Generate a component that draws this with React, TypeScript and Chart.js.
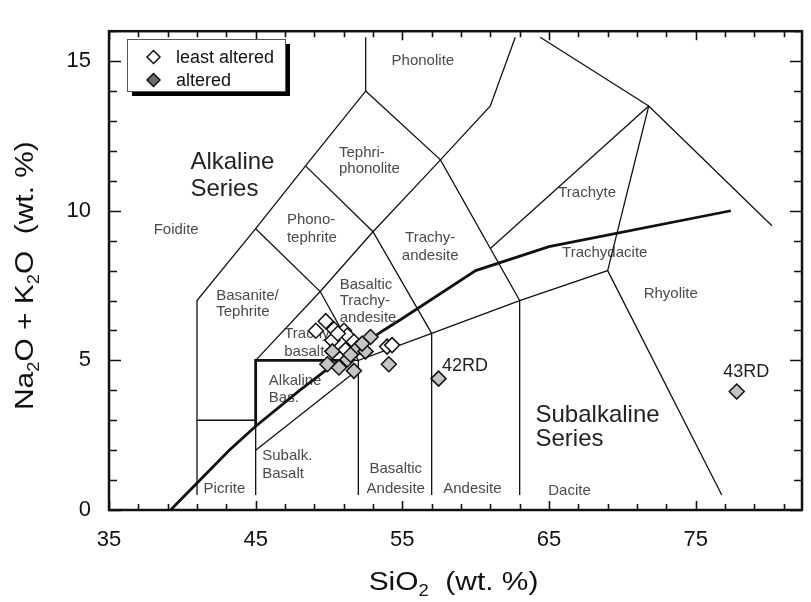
import React, { useEffect, useRef } from 'react';
import { Chart, registerables } from 'chart.js';

Chart.register(...registerables);

// ---- axis ticks ----
const xTickValues = [35, 45, 55, 65, 75];
const yTickValues = [0, 5, 10, 15];

// ---- samples ----
const leastAlteredSiO2 = [49.78, 49.1, 50.34, 51.02, 51.25, 50.23, 51.13, 52.04, 53.96, 54.3, 51.7, 50.6];
const leastAlteredAlk = [6.31, 5.99, 6.04, 5.99, 5.83, 5.67, 5.35, 5.46, 5.46, 5.51, 5.62, 5.9];
const alteredSiO2 = [52.83, 54.08, 49.89, 50.68, 51.7, 50.23, 51.25, 51.92, 52.49, 51.47, 52.26, 57.47, 77.8];
const alteredAlk = [5.78, 4.87, 4.87, 4.76, 4.65, 5.3, 5.03, 5.4, 5.3, 5.19, 5.56, 4.39, 3.96];
const sampleNames = ['42RD', '43RD'];
const sampleNameSiO2 = [57.7, 78.45];
const sampleNameAlk = [4.82, 4.6];

// ---- TAS field boundaries (SiO2, Na2O+K2O) ----
const foiditeBoundary = [[41, 0.5], [41, 7], [45, 9.4], [48.4, 11.5], [52.5, 14], [52.5, 15.8]];
const picriteTop = [[41, 3], [45, 3]];
const basaltLeft = [[45, 0.5], [45, 5]];
const basaltTop = [[45, 5], [52, 5]];
const trachyBasaltLine = [[45, 5], [49.4, 7.3], [53, 9.3], [57.6, 11.7], [61, 13.5], [62.7, 15.8]];
const phonotephriteLine = [[45, 9.4], [49.4, 7.3], [52, 5]];
const tephriphonoliteLine = [[48.4, 11.5], [53, 9.3], [57, 5.9]];
const phonoliteLine = [[52.5, 14], [57.6, 11.7], [63, 7]];
const basAndesiteLine = [[52, 0.5], [52, 5], [57, 5.9], [63, 7], [69, 8], [76.78, 0.5]];
const andesiteLeft = [[57, 0.5], [57, 5.9]];
const daciteLeft = [[63, 0.5], [63, 7]];
const rhyoliteLeft = [[69, 8], [71.8, 13.5], [80.2, 9.5]];
const trachyteTop = [[64.4, 15.8], [71.8, 13.5]];
const trachydaciteLine = [[61, 8.74], [71.8, 13.5]];
const subalkBasaltLine = [[45, 2], [52, 4.7]];
const alkalineBasaltBox = [[45, 2.8], [45, 5], [50.7, 5]];
const irvineBaragar = [[39.2, 0], [40, 0.4], [43.2, 2], [45, 2.8], [48, 4], [50, 4.75], [53.7, 6], [55, 6.4], [60, 8], [65, 8.8], [77.4, 10]];

const thinLines = [foiditeBoundary, picriteTop, basaltLeft, basaltTop, trachyBasaltLine, phonotephriteLine,
  tephriphonoliteLine, phonoliteLine, basAndesiteLine, andesiteLeft, daciteLeft, rhyoliteLeft, trachyteTop,
  trachydaciteLine, subalkBasaltLine];
const thickLines = [alkalineBasaltBox, irvineBaragar];

// ---- field names: [text, SiO2, alkali, align] ----
const fieldNames: [string, number, number, string][] = [
  ['Foidite', 39.58, 9.36, 'center'],
  ['Tephri-', 50.68, 11.93, 'left'],
  ['phonolite', 50.68, 11.4, 'left'],
  ['Phono-', 47.13, 9.69, 'left'],
  ['tephrite', 47.13, 9.09, 'left'],
  ['Basanite/', 42.31, 7.17, 'left'],
  ['Tephrite', 42.31, 6.61, 'left'],
  ['Basaltic', 50.73, 7.54, 'left'],
  ['Trachy-', 50.73, 7.0, 'left'],
  ['andesite', 50.73, 6.42, 'left'],
  ['Trachy-', 46.95, 5.88, 'left'],
  ['basalt', 46.95, 5.3, 'left'],
  ['Alkaline', 45.9, 4.33, 'left'],
  ['Bas.', 45.9, 3.75, 'left'],
  ['Subalk.', 45.45, 1.8, 'left'],
  ['Basalt', 45.45, 1.2, 'left'],
  ['Picrite', 41.45, 0.71, 'left'],
  ['Basaltic', 54.55, 1.38, 'center'],
  ['Andesite', 54.55, 0.71, 'center'],
  ['Andesite', 59.78, 0.71, 'center'],
  ['Dacite', 66.4, 0.65, 'center'],
  ['Phonolite', 56.4, 15.0, 'center'],
  ['Trachyte', 67.6, 10.6, 'center'],
  ['Trachy-', 56.9, 9.1, 'center'],
  ['andesite', 56.9, 8.5, 'center'],
  ['Trachydacite', 68.8, 8.6, 'center'],
  ['Rhyolite', 73.3, 7.22, 'center'],
];
const seriesNames: [string, number, number][] = [
  ['Alkaline', 40.55, 11.61],
  ['Series', 40.55, 10.7],
  ['Subalkaline', 64.08, 3.16],
  ['Series', 64.08, 2.35],
];
const legendLabels = ['least altered', 'altered'];

const FONT = '"Liberation Sans", Arial, Helvetica, sans-serif';
const WHITE_FILL = '#ffffff';
const GRAY_FILL = '#c4c4c4';
const LEGEND_GRAY = '#6c6c6c';

function diamond(ctx: CanvasRenderingContext2D, x: number, y: number, r: number, fill: string) {
  ctx.beginPath();
  ctx.moveTo(x, y - r);
  ctx.lineTo(x + r, y);
  ctx.lineTo(x, y + r);
  ctx.lineTo(x - r, y);
  ctx.closePath();
  ctx.fillStyle = fill;
  ctx.fill();
  ctx.lineWidth = 1.5;
  ctx.strokeStyle = '#111';
  ctx.stroke();
}

const decorPlugin = {
  id: 'decor',
  beforeDatasetsDraw(chart: any) {
    const { ctx, scales } = chart;
    const xs = scales.x;
    const ys = scales.y;
    ctx.save();
    ctx.textBaseline = 'middle';
    ctx.fillStyle = '#4a4a4a';
    ctx.font = `15px ${FONT}`;
    for (const [t, sx, sy, al] of fieldNames) {
      ctx.textAlign = al as CanvasTextAlign;
      ctx.fillText(t, xs.getPixelForValue(sx), ys.getPixelForValue(sy));
    }
    ctx.fillStyle = '#222';
    ctx.font = `24px ${FONT}`;
    ctx.textAlign = 'left';
    for (const [t, sx, sy] of seriesNames) {
      ctx.fillText(t, xs.getPixelForValue(sx), ys.getPixelForValue(sy));
    }
    ctx.restore();
  },
  afterDatasetsDraw(chart: any) {
    const { ctx, chartArea, scales } = chart;
    const { left, right, top, bottom } = chartArea;
    const xs = scales.x;
    const ys = scales.y;
    ctx.save();
    // sample names
    ctx.fillStyle = '#222';
    ctx.font = `18px ${FONT}`;
    ctx.textBaseline = 'middle';
    ctx.textAlign = 'left';
    ctx.fillText(sampleNames[0], xs.getPixelForValue(sampleNameSiO2[0]), ys.getPixelForValue(sampleNameAlk[0]));
    ctx.textAlign = 'center';
    ctx.fillText(sampleNames[1], xs.getPixelForValue(sampleNameSiO2[1]), ys.getPixelForValue(sampleNameAlk[1]));

    // frame + ticks
    ctx.strokeStyle = '#111';
    ctx.lineWidth = 1.6;
    ctx.beginPath();
    for (let v = 35; v <= xs.max; v += 2) {
      const px = Math.round(xs.getPixelForValue(v)) + 0.5;
      const L = (v - 35) % 10 === 0 ? 9 : 6;
      ctx.moveTo(px, bottom); ctx.lineTo(px, bottom - L);
      ctx.moveTo(px, top); ctx.lineTo(px, top + L);
    }
    for (let v = 0; v <= ys.max; v += 1) {
      const py = Math.round(ys.getPixelForValue(v)) + 0.5;
      const L = v % 5 === 0 ? 12 : 8;
      ctx.moveTo(left, py); ctx.lineTo(left + L, py);
      ctx.moveTo(right, py); ctx.lineTo(right - L, py);
    }
    ctx.stroke();
    ctx.lineWidth = 2.5;
    ctx.strokeRect(left, top, right - left, bottom - top);

    // legend
    const bx = 127, by = 39, bw = 158, bh = 52;
    ctx.fillStyle = '#000';
    ctx.fillRect(bx + 5, by + 5, bw, bh);
    ctx.fillStyle = '#fff';
    ctx.fillRect(bx, by, bw, bh);
    ctx.lineWidth = 1;
    ctx.strokeStyle = '#555';
    ctx.strokeRect(bx + 0.5, by + 0.5, bw, bh);
    diamond(ctx, 153.5, 57, 6.5, WHITE_FILL);
    diamond(ctx, 153.5, 80, 6.5, LEGEND_GRAY);
    ctx.fillStyle = '#111';
    ctx.font = `18px ${FONT}`;
    ctx.textAlign = 'left';
    ctx.textBaseline = 'middle';
    ctx.fillText(legendLabels[0], 176, 58);
    ctx.fillText(legendLabels[1], 176, 81);

    // axis titles with subscripts (slightly wide lettering as in the original)
    ctx.fillStyle = '#111';
    const big = `26px ${FONT}`;
    const sub = `16px ${FONT}`;
    const stretch = 1.15;
    const drawRich = (parts: [string, boolean][], cx: number, cy: number) => {
      let w = 0;
      for (const [t, s] of parts) { ctx.font = s ? sub : big; w += ctx.measureText(t).width; }
      ctx.save();
      ctx.translate(cx, cy);
      ctx.scale(stretch, 1);
      let x = -w / 2;
      ctx.textAlign = 'left';
      ctx.textBaseline = 'alphabetic';
      for (const [t, s] of parts) {
        ctx.font = s ? sub : big;
        ctx.fillText(t, x, s ? 6 : 0);
        x += ctx.measureText(t).width;
      }
      ctx.restore();
    };
    const cxPlot = (left + right) / 2;
    drawRich([['SiO', false], ['2', true], ['  (wt. %)', false]], cxPlot - 2, 590);
    ctx.save();
    ctx.translate(33, (top + bottom) / 2 + 5);
    ctx.rotate(-Math.PI / 2);
    drawRich([['Na', false], ['2', true], ['O + K', false], ['2', true], ['O  (wt. %)', false]], 0, 0);
    ctx.restore();
    ctx.restore();
  },
};

export default function App() {
  const ref = useRef<HTMLCanvasElement>(null);
  useEffect(() => {
    const canvas = ref.current;
    if (!canvas) return;
    const toPts = (xs: number[], ys: number[]) => xs.map((x, i) => ({ x, y: ys[i] }));
    const lineSet = (pts: number[][], w: number) => ({
      data: pts.map(([x, y]) => ({ x, y })),
      showLine: true,
      borderColor: '#111',
      borderWidth: w,
      pointRadius: 0,
      pointHoverRadius: 0,
      fill: false,
      order: 3,
    });
    const chart = new Chart(canvas, {
      type: 'scatter',
      data: {
        datasets: [
          {
            label: 'altered',
            data: toPts(alteredSiO2, alteredAlk),
            pointStyle: 'rectRot',
            pointRadius: 7.5,
            pointBackgroundColor: GRAY_FILL,
            pointBorderColor: '#111',
            pointBorderWidth: 1.5,
            order: 0,
          } as any,
          {
            label: 'least altered',
            data: toPts(leastAlteredSiO2, leastAlteredAlk),
            pointStyle: 'rectRot',
            pointRadius: 7.5,
            pointBackgroundColor: WHITE_FILL,
            pointBorderColor: '#111',
            pointBorderWidth: 1.5,
            order: 1,
          } as any,
          ...thinLines.map((l) => lineSet(l, 1.3)),
          ...thickLines.map((l) => lineSet(l, 2.8)),
        ],
      },
      options: {
        responsive: false,
        animation: false,
        events: [],
        layout: { padding: { top: 12, right: 6, left: 0, bottom: 0 } },
        plugins: { legend: { display: false }, tooltip: { enabled: false }, title: { display: false } },
        scales: {
          x: {
            type: 'linear',
            min: 35,
            max: 82.25,
            afterBuildTicks: (s: any) => { s.ticks = xTickValues.map((v) => ({ value: v })); },
            afterFit: (s: any) => { s.height = 92; },
            grid: { display: false, drawTicks: false },
            border: { display: false },
            ticks: { font: { size: 22, family: FONT }, color: '#111', padding: 17, maxRotation: 0, autoSkip: false },
          },
          y: {
            type: 'linear',
            min: 0,
            max: 16,
            afterBuildTicks: (s: any) => { s.ticks = yTickValues.map((v) => ({ value: v })); },
            afterFit: (s: any) => { s.width = 109; },
            grid: { display: false, drawTicks: false },
            border: { display: false },
            ticks: { font: { size: 22, family: FONT }, color: '#111', padding: 18, autoSkip: false },
          },
        },
      },
      plugins: [decorPlugin],
    });
    return () => chart.destroy();
  }, []);
  return (
    <div style={{ position: 'fixed', left: 0, top: 0, width: 811, height: 602, background: '#fff' }}>
      <canvas ref={ref} width={811} height={602} style={{ display: 'block' }} />
    </div>
  );
}
